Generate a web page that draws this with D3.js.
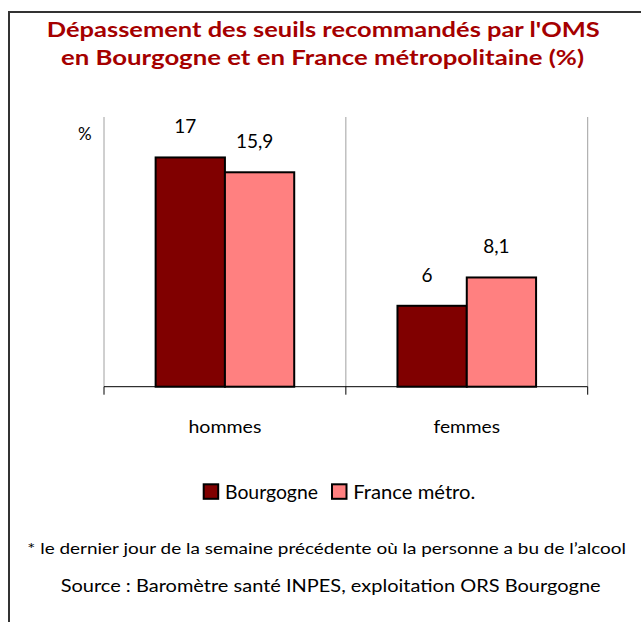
<!doctype html>
<html>
  <head>
    <meta charset="utf-8">
    <script src="https://cdn.jsdelivr.net/npm/d3@7"></script>
    <style>
      body { margin: 0; background: #fff; }
      text { font-family: Lato, "Open Sans", sans-serif; }
    </style>
  </head>
  <body>
    <script>
    // data
    var categories = ["hommes", "femmes"];
    var series = ["Bourgogne", "France métro."];
    var bourgogne = [17, 6];
    var france = [15.9, 8.1];
    var labels = [["17", "6"], ["15,9", "8,1"]];
    var colors = ["#800000", "#ff8080"];

    var width = 641;
    var height = 622;

    var svg = d3.select("body")
              .append("svg")
              .attr("width", width)
              .attr("height", height);

    // frame (cropped at right and bottom)
    svg.append("path")
      .attr("d", "M9,622 V12 H641")
      .attr("fill", "none")
      .attr("stroke", "#333")
      .attr("stroke-width", 2);

    // fit text to a target width
    function fit(sel, w) {
      sel.attr("textLength", w).attr("lengthAdjust", "spacingAndGlyphs");
      return sel;
    }

    // title
    var title = svg.append("g")
      .attr("fill", "#a50000")
      .attr("font-weight", "bold")
      .attr("font-size", "20.5px")
      .attr("text-anchor", "middle");
    fit(title.append("text").attr("x", 323.3).attr("y", 37.3)
      .text("Dépassement des seuils recommandés par l'OMS"), 553);
    fit(title.append("text").attr("x", 322.5).attr("y", 65)
      .text("en Bourgogne et en France métropolitaine (%)"), 523);

    var plotLeft = 104, plotRight = 587.7, plotTop = 117, plotBottom = 386.7;

    var x0 = d3.scaleBand()
      .domain(categories)
      .range([plotLeft, plotRight]);

    var x1 = d3.scaleBand()
      .domain(series)
      .range([x0.bandwidth() / 2 - 69.3, x0.bandwidth() / 2 + 69.3]);

    var y = d3.scaleLinear()
      .domain([0, 20])
      .range([plotBottom, plotTop]);

    // vertical separators
    svg.append("g")
      .selectAll("line")
      .data(d3.range(categories.length + 1))
      .join("line")
      .attr("x1", function(i) { return plotLeft + i * x0.bandwidth(); })
      .attr("x2", function(i) { return plotLeft + i * x0.bandwidth(); })
      .attr("y1", plotTop)
      .attr("y2", plotBottom)
      .attr("stroke", "#a0a0a0")
      .attr("stroke-width", 1);

    // % unit
    svg.append("text")
      .attr("x", 84.7)
      .attr("y", 140)
      .attr("text-anchor", "middle")
      .attr("font-size", "17px")
      .text("%");

    var values = [bourgogne, france];
    var rows = [];
    series.forEach(function(s, si) {
      categories.forEach(function(c, ci) {
        rows.push({ s: s, si: si, c: c, v: values[si][ci], label: labels[si][ci] });
      });
    });

    // bars
    svg.append("g")
      .selectAll("rect")
      .data(rows)
      .join("rect")
      .attr("x", function(d) { return x0(d.c) + x1(d.s); })
      .attr("y", function(d) { return y(d.v); })
      .attr("width", x1.bandwidth())
      .attr("height", function(d) { return y(0) - y(d.v); })
      .attr("fill", function(d) { return colors[d.si]; })
      .attr("stroke", "#000")
      .attr("stroke-width", 2);

    // value labels
    svg.append("g")
      .selectAll("text")
      .data(rows)
      .join("text")
      .attr("x", function(d) { return x0(d.c) + x1(d.s) + x1.bandwidth() / 2 - 5; })
      .attr("y", function(d) { return y(d.v) - 24; })
      .attr("text-anchor", "middle")
      .attr("font-size", "19px")
      .text(function(d) { return d.label; });

    // x axis
    var xAxis = d3.axisBottom(x0).tickSize(0).tickFormat("");
    var ax = svg.append("g")
      .attr("transform", "translate(0," + plotBottom + ")")
      .call(xAxis);
    ax.select(".domain").attr("stroke", "#000").attr("d", "M" + plotLeft + ",0H" + plotRight);
    ax.selectAll(".sep")
      .data(d3.range(categories.length + 1))
      .join("line")
      .attr("class", "sep")
      .attr("x1", function(i) { return plotLeft + i * x0.bandwidth(); })
      .attr("x2", function(i) { return plotLeft + i * x0.bandwidth(); })
      .attr("y1", 0)
      .attr("y2", 8)
      .attr("stroke", "#000");

    var catWidths = [73, 66.6];
    categories.forEach(function(c, i) {
      fit(svg.append("text")
        .attr("x", x0(c) + x0.bandwidth() / 2)
        .attr("y", 433.3)
        .attr("text-anchor", "middle")
        .attr("font-size", "18px")
        .text(c), catWidths[i]);
    });

    // legend
    var legX = [202.7, 331];
    var legW = [93, 122];
    series.forEach(function(s, i) {
      svg.append("rect")
        .attr("x", legX[i] + 1)
        .attr("y", 484.3)
        .attr("width", 14.5)
        .attr("height", 14.5)
        .attr("fill", colors[i])
        .attr("stroke", "#000")
        .attr("stroke-width", 2);
      fit(svg.append("text")
        .attr("x", legX[i] + 22.3)
        .attr("y", 499)
        .attr("font-size", "19px")
        .text(s), legW[i]);
    });

    // notes
    fit(svg.append("text")
      .attr("x", 27.3)
      .attr("y", 554)
      .attr("font-size", "16px")
      .text("* le dernier jour de la semaine précédente où la personne a bu de l’alcool"), 598.7);

    fit(svg.append("text")
      .attr("x", 60.7)
      .attr("y", 592)
      .attr("font-size", "18px")
      .text("Source : Baromètre santé INPES, exploitation ORS Bourgogne"), 540);
    </script>
  </body>
</html>
